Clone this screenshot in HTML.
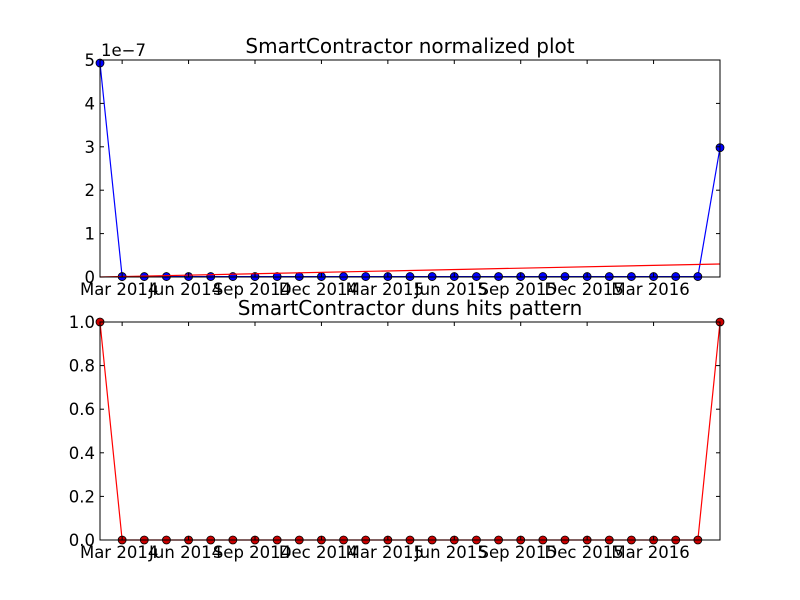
<!DOCTYPE html>
<html><head><meta charset="utf-8"><style>
body{margin:0;background:#fff}
svg{display:block;font-family:"DejaVu Sans","Liberation Sans",sans-serif}
</style></head><body>
<svg id="chart" width="800" height="600" viewBox="0 0 800 600"></svg>
<script>
const monthLabels=["Feb 2014","Mar 2014","Apr 2014","May 2014","Jun 2014","Jul 2014","Aug 2014","Sep 2014","Oct 2014","Nov 2014","Dec 2014","Jan 2015","Feb 2015","Mar 2015","Apr 2015","May 2015","Jun 2015","Jul 2015","Aug 2015","Sep 2015","Oct 2015","Nov 2015","Dec 2015","Jan 2016","Feb 2016","Mar 2016","Apr 2016","May 2016","Jun 2016"];
const tickIdx=[1,4,7,10,13,16,19,22,25];
const tickLabels=["Mar 2014","Jun 2014","Sep 2014","Dec 2014","Mar 2015","Jun 2015","Sep 2015","Dec 2015","Mar 2016"];
const normValues=[4.93,0.01,0.01,0.01,0.01,0.01,0.01,0.01,0.01,0.01,0.01,0.01,0.01,0.01,0.01,0.01,0.01,0.01,0.01,0.01,0.01,0.01,0.01,0.01,0.01,0.01,0.01,0.01,2.98];
const trendStart=0.0;
const trendEnd=0.3;
const hitValues=[1,0,0,0,0,0,0,0,0,0,0,0,0,0,0,0,0,0,0,0,0,0,0,0,0,0,0,0,1];
const topYTicks=[0,1,2,3,4,5];
const botYTicks=[0,0.2,0.4,0.6,0.8,1.0];

const svg=document.getElementById('chart');
const NS="http://www.w3.org/2000/svg";
function mk(tag,attrs,parent){const e=document.createElementNS(NS,tag);for(const k in attrs)e.setAttribute(k,attrs[k]);(parent||svg).appendChild(e);return e;}
const L=100,R=720;
const xs=i=>L+(R-L)*i/(monthLabels.length-1);

function panel(top,bottom,ymax,title,name){
  const ys=v=>bottom-(bottom-top)*v/ymax;
  const g=mk('g',{});
  
  
  mk('rect',{x:L,y:top,width:R-L,height:bottom-top,fill:'#fff'},g);
  const t=mk('text',{x:410,y:top-7,'text-anchor':'middle','font-size':'20'},g);
  t.textContent=title;
  
  
  return {g,ys};
}
function axes(p,top,bottom,yTicks,fmt){
  const g=p.g;
  tickIdx.forEach((ti,k)=>{
    const x=xs(ti);
    mk('line',{x1:x,x2:x,y1:bottom,y2:bottom-4,stroke:'#000'},g);
    mk('line',{x1:x,x2:x,y1:top,y2:top+4,stroke:'#000'},g);
    const t=mk('text',{x:x-3,y:bottom+18,'text-anchor':'middle','font-size':'16.5'},g);
    t.textContent=tickLabels[k];
    
    
  });
  yTicks.forEach(v=>{
    const y=p.ys(v);
    mk('line',{x1:L,x2:L+4,y1:y,y2:y,stroke:'#000'},g);
    mk('line',{x1:R,x2:R-4,y1:y,y2:y,stroke:'#000'},g);
    const t=mk('text',{x:L-5,y:y+6,'text-anchor':'end','font-size':'16.5'},g);
    t.textContent=fmt(v);
    
    
  });
  mk('rect',{x:L,y:top,width:R-L,height:bottom-top,fill:'none',stroke:'#000','stroke-width':1},g);
}

// top panel
const p1=panel(60,277,5,"SmartContractor normalized plot","normalized-plot");
const cp1=mk('clipPath',{id:'c1'});mk('rect',{x:L-6,y:54,width:R-L+12,height:229},cp1);
const d1=mk('g',{'clip-path':'url(#c1)'},p1.g);
const line1=mk('polyline',{points:normValues.map((v,i)=>xs(i)+','+p1.ys(v)).join(' '),fill:'none',stroke:'#0000ff','stroke-width':1.2},d1);


normValues.forEach((v,i)=>{
  const c=mk('circle',{cx:xs(i),cy:p1.ys(v),r:4,fill:'#0000ff',stroke:'#000','stroke-width':0.8},d1);
  
  
});
const tr=mk('line',{x1:xs(0),y1:p1.ys(trendStart),x2:xs(monthLabels.length-1),y2:p1.ys(trendEnd),stroke:'#ff0000','stroke-width':1.2},d1);


axes(p1,60,277,topYTicks,v=>String(v));
const off=mk('text',{x:101,y:56,'font-size':'16.5'},p1.g);
off.textContent="1e\u22127";



// bottom panel
const p2=panel(322,540,1,"SmartContractor duns hits pattern","hits-plot");
const cp2=mk('clipPath',{id:'c2'});mk('rect',{x:L-6,y:316,width:R-L+12,height:230},cp2);
const d2=mk('g',{'clip-path':'url(#c2)'},p2.g);
const line2=mk('polyline',{points:hitValues.map((v,i)=>xs(i)+','+p2.ys(v)).join(' '),fill:'none',stroke:'#ff0000','stroke-width':1.2},d2);


hitValues.forEach((v,i)=>{
  const c=mk('circle',{cx:xs(i),cy:p2.ys(v),r:4,fill:'#cc0000',stroke:'#000','stroke-width':0.8},d2);
  
  
});
axes(p2,322,540,botYTicks,v=>v.toFixed(1));
</script>
</body></html>
